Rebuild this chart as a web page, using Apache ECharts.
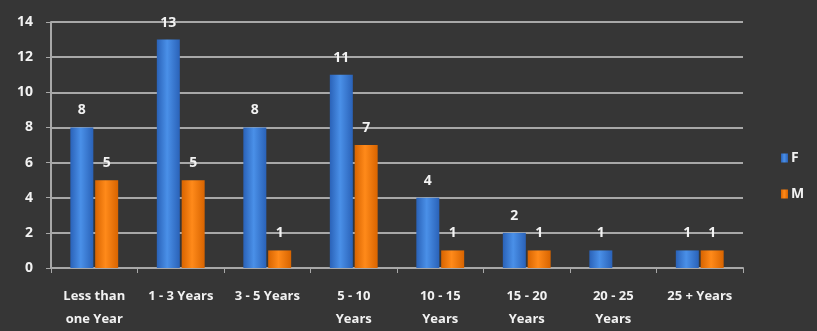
<!DOCTYPE html>
<html>
<head>
<meta charset="utf-8">
<script src="https://cdn.jsdelivr.net/npm/echarts@6/dist/echarts.min.js"></script>
<style>
  html, body { margin: 0; padding: 0; background: #363636; }
  #chart { width: 817px; height: 331px; }
</style>
</head>
<body>
<div id="chart"></div>
<script>
// Tenure bands and head counts by gender
const categories = ['Less than\none Year', '1 - 3 Years', '3 - 5 Years', '5 - 10\nYears', '10 - 15\nYears', '15 - 20\nYears', '20 - 25\nYears', '25 + Years'];
const femaleCounts = [8, 13, 8, 11, 4, 2, 1, 1];
const maleCounts = [5, 5, 1, 7, 1, 1, null, 1];
const yTicks = { min: 0, max: 14, interval: 2 };

const textColor = '#f2f2f2';
const font = 'Open Sans';

function barGradient(edge, mid) {
  return new echarts.graphic.LinearGradient(0, 0, 1, 0, [
    { offset: 0, color: edge },
    { offset: 0.45, color: mid },
    { offset: 1, color: edge }
  ]);
}

const chart = echarts.init(document.getElementById('chart'), null, { renderer: 'canvas' });
chart.setOption({
  backgroundColor: '#363636',
  animation: false,
  textStyle: { fontFamily: font },
  grid: { left: 51, right: 74, top: 22, bottom: 60 },
  legend: {
    orient: 'vertical',
    left: 776,
    top: 146,
    itemGap: 22,
    itemWidth: 7,
    itemHeight: 9,
    icon: 'rect',
    textStyle: { color: textColor, fontFamily: font, fontWeight: 'bold', fontSize: 14, padding: [0, 0, 0, -2] },
    data: ['F', 'M']
  },
  xAxis: {
    type: 'category',
    data: categories,
    axisLine: { lineStyle: { color: '#a8a8a8', width: 2 } },
    axisTick: { show: true, alignWithLabel: false, length: 5, lineStyle: { color: '#a8a8a8', width: 1 } },
    axisLabel: {
      color: textColor, fontFamily: font, fontWeight: 'bold', fontSize: 13,
      lineHeight: 23, margin: 17, interval: 0
    }
  },
  yAxis: {
    type: 'value',
    min: yTicks.min, max: yTicks.max, interval: yTicks.interval,
    axisLine: { show: true, lineStyle: { color: '#a8a8a8', width: 2 } },
    axisTick: { show: true, length: 5, lineStyle: { color: '#a8a8a8' } },
    splitLine: { lineStyle: { color: '#a8a8a8', width: 2 } },
    axisLabel: { color: textColor, fontFamily: font, fontWeight: 'bold', fontSize: 14, margin: 18 }
  },
  series: [
    {
      name: 'F',
      type: 'bar',
      data: femaleCounts,
      barWidth: 23,
      barGap: '8%',
      itemStyle: { color: barGradient('#2a62b8', '#4a90e8') },
      label: {
        show: true, position: 'top', distance: 10,
        color: textColor, fontFamily: font, fontWeight: 'bold', fontSize: 14
      }
    },
    {
      name: 'M',
      type: 'bar',
      data: maleCounts,
      barWidth: 23,
      itemStyle: { color: barGradient('#d86400', '#ff8a1a') },
      label: {
        show: true, position: 'top', distance: 10,
        color: textColor, fontFamily: font, fontWeight: 'bold', fontSize: 14
      }
    }
  ]
});
</script>
</body>
</html>
